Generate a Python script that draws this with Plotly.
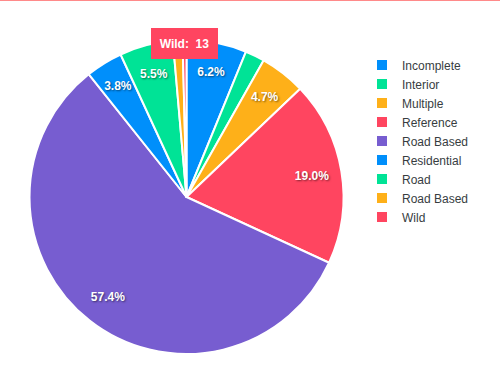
import plotly.graph_objects as go

labels = ["Incomplete", "Interior", "Multiple", "Reference", "Road Based",
          "Residential", "Road", "Road Based ", "Wild"]
values = [201, 65, 153, 617, 1866, 124, 179, 32, 13]
colors = ["#008FFB", "#00E396", "#FEB019", "#FF4560", "#775DD0",
          "#008FFB", "#00E396", "#FEB019", "#FF4560"]

total = sum(values)
texts = [f"{v / total * 100:.1f}%" if v / total >= 0.03 else "" for v in values]

# pie geometry (pixels): centre (186.5, 197), radius 157
W, H = 500, 382
cx, cy, R = 186.5, 197, 157
dom_x = [(cx - R) / W, (cx + R) / W]
dom_y = [1 - (cy + R) / H, 1 - (cy - R) / H]
Rt = 0.93 * R  # label ring
dom_xt = [(cx - Rt) / W, (cx + Rt) / W]
dom_yt = [1 - (cy + Rt) / H, 1 - (cy - Rt) / H]

fig = go.Figure()
fig.add_trace(go.Pie(
    labels=labels, values=values, sort=False, direction="clockwise",
    marker=dict(colors=colors, line=dict(color="white", width=2)),
    textinfo="none", hoverinfo="skip", domain=dict(x=dom_x, y=dom_y),
    showlegend=True,
))
fig.add_trace(go.Pie(
    labels=labels, values=values, sort=False, direction="clockwise", hole=0.742,
    marker=dict(colors=["rgba(0,0,0,0)"] * len(values), line=dict(width=0)),
    text=texts, textinfo="text", textposition="inside",
    insidetextorientation="horizontal",
    textfont=dict(color="white", size=12, family="Liberation Sans", weight="bold",
                  shadow="1px 1px 2px rgba(0,0,0,0.5)"),
    hoverinfo="skip", domain=dict(x=dom_xt, y=dom_yt), showlegend=False,
))

fig.add_annotation(
    x=184 / W, y=1 - 43.5 / H, xref="paper", yref="paper",
    xanchor="center", yanchor="middle",
    text=f"<b>{labels[-1]}:  {values[-1]}</b>", showarrow=False,
    font=dict(color="white", size=12, family="Liberation Sans"),
    bgcolor="#FF4560", borderwidth=0, borderpad=0, width=67, height=31,
)

fig.add_shape(type="line", xref="paper", yref="paper", x0=0, x1=1, y0=1, y1=1,
              line=dict(color="#FF8A8A", width=2))

fig.update_layout(
    width=W, height=H, margin=dict(l=0, r=0, t=0, b=0),
    paper_bgcolor="white", plot_bgcolor="white",
    uniformtext=dict(minsize=12, mode="show"),
    legend=dict(x=0.724, y=0.868, xanchor="left", yanchor="top",
                font=dict(size=12, family="Liberation Sans", color="#373d3f"),
                itemwidth=30, tracegroupgap=0),
    font=dict(family="Liberation Sans"),
)

fig.write_html("out.html", config={"displayModeBar": False},
               post_script="document.body.style.margin='0';")
